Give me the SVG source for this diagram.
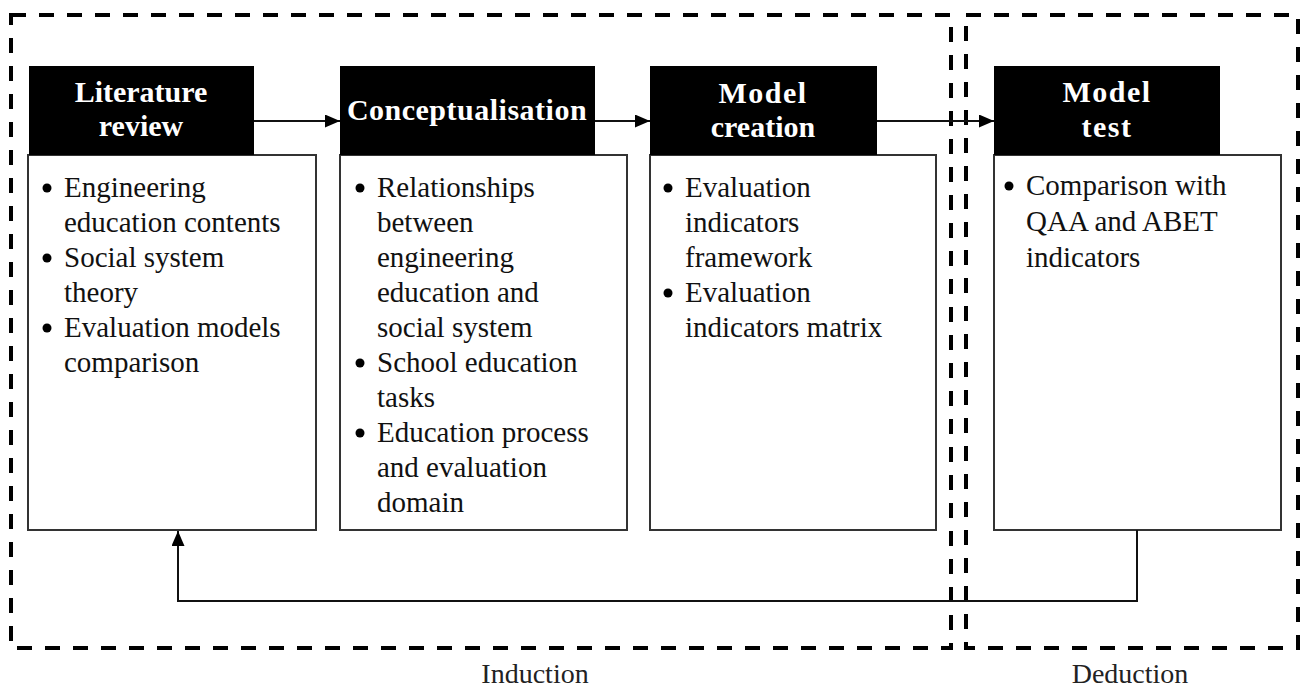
<svg xmlns="http://www.w3.org/2000/svg" width="1303" height="687" viewBox="0 0 1303 687">
<defs>
<marker id="ah" markerWidth="15" markerHeight="13" refX="15" refY="6.5" orient="auto" markerUnits="userSpaceOnUse">
<path d="M0,0 L15,6.5 L0,13 Z" fill="#000"/>
</marker>
<style>
.region{fill:none;stroke:#000;stroke-width:4;stroke-dasharray:15 13;}
.head{fill:#000;}
.body{fill:#fff;stroke:#333;stroke-width:2;}
.ht{font-family:"Liberation Serif","Times New Roman",serif;font-weight:bold;font-size:30px;fill:#fff;text-anchor:middle;}
.bt{font-family:"Liberation Serif","Times New Roman",serif;font-size:29px;fill:#111;}
.lbl{font-family:"Liberation Serif","Times New Roman",serif;font-size:28px;fill:#222;text-anchor:middle;}
.conn{fill:none;stroke:#111;stroke-width:2;}
.dot{fill:#000;}
</style>
</defs>
<rect fill="#fff" x="0" y="0" width="1303" height="687"/>
<g id="induction">
<rect class="region" x="11" y="15" width="940" height="633"/>
<text class="lbl" x="535" y="683">Induction</text>
</g>
<g id="deduction">
<rect class="region" x="966" y="15" width="332" height="633"/>
<text class="lbl" x="1130" y="683">Deduction</text>
</g>
<g id="literature-review">
<rect class="body" x="28" y="155" width="288" height="375"/>
<rect class="head" x="29" y="66" width="225" height="89"/>
<text class="ht" x="141" y="102">Literature</text>
<text class="ht" x="141" y="136">review</text>
<circle class="dot" cx="47" cy="188" r="4.5"/>
<circle class="dot" cx="47" cy="258" r="4.5"/>
<circle class="dot" cx="47" cy="328" r="4.5"/>
<text class="bt" x="64" y="197">Engineering</text>
<text class="bt" x="64" y="232">education contents</text>
<text class="bt" x="64" y="267">Social system</text>
<text class="bt" x="64" y="302">theory</text>
<text class="bt" x="64" y="337">Evaluation models</text>
<text class="bt" x="64" y="372">comparison</text>
</g>
<g id="conceptualisation">
<rect class="body" x="340" y="155" width="287" height="375"/>
<rect class="head" x="340" y="66" width="255" height="89"/>
<text class="ht" x="467" y="120" letter-spacing="0.5">Conceptualisation</text>
<circle class="dot" cx="360" cy="188" r="4.5"/>
<circle class="dot" cx="360" cy="363" r="4.5"/>
<circle class="dot" cx="360" cy="433" r="4.5"/>
<text class="bt" x="377" y="197">Relationships</text>
<text class="bt" x="377" y="232">between</text>
<text class="bt" x="377" y="267">engineering</text>
<text class="bt" x="377" y="302">education and</text>
<text class="bt" x="377" y="337">social system</text>
<text class="bt" x="377" y="372">School education</text>
<text class="bt" x="377" y="407">tasks</text>
<text class="bt" x="377" y="442">Education process</text>
<text class="bt" x="377" y="477">and evaluation</text>
<text class="bt" x="377" y="512">domain</text>
</g>
<g id="model-creation">
<rect class="body" x="650" y="155" width="286" height="375"/>
<rect class="head" x="650" y="66" width="227" height="89"/>
<text class="ht" x="763" y="103" letter-spacing="1.5">Model</text>
<text class="ht" x="763" y="137">creation</text>
<circle class="dot" cx="668" cy="188" r="4.5"/>
<circle class="dot" cx="668" cy="293" r="4.5"/>
<text class="bt" x="685" y="197">Evaluation</text>
<text class="bt" x="685" y="232">indicators</text>
<text class="bt" x="685" y="267">framework</text>
<text class="bt" x="685" y="302">Evaluation</text>
<text class="bt" x="685" y="337">indicators matrix</text>
</g>
<g id="model-test">
<rect class="body" x="994" y="155" width="287" height="375"/>
<rect class="head" x="994" y="66" width="226" height="89"/>
<text class="ht" x="1107" y="102" letter-spacing="1.5">Model</text>
<text class="ht" x="1107" y="137" letter-spacing="1.5">test</text>
<circle class="dot" cx="1009" cy="186" r="4.5"/>
<text class="bt" x="1026" y="195">Comparison with</text>
<text class="bt" x="1026" y="231">QAA and ABET</text>
<text class="bt" x="1026" y="267">indicators</text>
</g>
<g id="connectors">
<line class="conn" x1="254" y1="121" x2="340" y2="121" marker-end="url(#ah)"/>
<line class="conn" x1="595" y1="121" x2="650" y2="121" marker-end="url(#ah)"/>
<line class="conn" x1="877" y1="121" x2="994" y2="121" marker-end="url(#ah)"/>
<path class="conn" d="M1137,530 L1137,601 L178,601 L178,531" marker-end="url(#ah)"/>
</g>
</svg>
